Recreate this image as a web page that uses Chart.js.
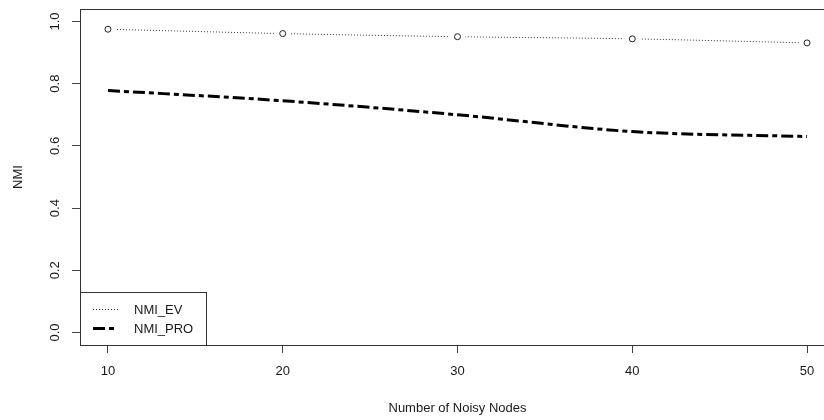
<!DOCTYPE html>
<html>
<head>
<meta charset="utf-8">
<script src="https://cdn.jsdelivr.net/npm/chart.js@4.4.1/dist/chart.umd.min.js"></script>
<style>
  html, body { margin: 0; padding: 0; background: #fff; overflow: hidden; }
  #wrap { width: 850px; height: 420px; position: relative; }
  #c { display: block; }
</style>
</head>
<body>
<div id="wrap"><canvas id="c" width="850" height="420"></canvas></div>
<script>
// ---- data ----
const noisyNodes = [10, 20, 30, 40, 50];
const nmiEV  = [0.975, 0.961, 0.951, 0.944, 0.931];
const nmiPRO = [0.778, 0.745, 0.700, 0.646, 0.630];
const seriesNames = ['NMI_EV', 'NMI_PRO'];
const xTickValues = [10, 20, 30, 40, 50];
const yTickValues = [0.0, 0.2, 0.4, 0.6, 0.8, 1.0];
const xTitle = 'Number of Noisy Nodes';
const yTitle = 'NMI';

const pts = arr => noisyNodes.map((x, i) => ({ x: x, y: arr[i] }));
const FONT = { family: '"Liberation Sans", Arial, sans-serif', size: 13 };
const INK = '#1a1a1a';
const EV_DASH = [1, 2];
const PRO_DASH = [12, 4, 5, 4];

const noPad = s => { s.paddingTop = 0; s.paddingBottom = 0; s.paddingLeft = 0; s.paddingRight = 0; };

const boxPlugin = {
  id: 'rbox',
  afterDraw(chart) {
    const { ctx, chartArea: a } = chart;
    const L = Math.round(a.left) + 0.5, T = Math.round(a.top) + 0.5,
          B = Math.round(a.bottom) + 0.5, R = Math.round(a.right) + 0.5;
    ctx.save();
    ctx.strokeStyle = '#333';
    ctx.lineWidth = 1;
    ctx.setLineDash([]);
    ctx.strokeRect(L, T, R - L, B - T);
    // legend (bottom-left, inside plot region)
    const lx = a.left, ly = a.bottom - 53, lw = 126, lh = 53;
    ctx.fillStyle = '#fff';
    ctx.fillRect(lx + 0.5, ly + 0.5, lw, lh);
    ctx.strokeStyle = '#333';
    ctx.strokeRect(Math.round(lx) + 0.5, Math.round(ly) + 0.5, lw, lh);
    const rows = [
      { y: ly + 17, ds: chart.data.datasets[1], name: seriesNames[0] },
      { y: ly + 36, ds: chart.data.datasets[0], name: seriesNames[1] }
    ];
    rows.forEach(r => {
      ctx.beginPath();
      ctx.setLineDash(r.ds.borderDash || []);
      ctx.lineWidth = r.ds.borderWidth;
      ctx.strokeStyle = r.ds.borderColor;
      ctx.moveTo(lx + 13, r.y + 0.5);
      ctx.lineTo(lx + 38, r.y + 0.5);
      ctx.stroke();
      ctx.setLineDash([]);
      ctx.fillStyle = INK;
      ctx.font = FONT.size + 'px ' + FONT.family;
      ctx.textAlign = 'left';
      ctx.textBaseline = 'middle';
      ctx.fillText(r.name, lx + 54, r.y + 1);
    });
    ctx.restore();
  }
};

new Chart(document.getElementById('c'), {
  type: 'line',
  data: {
    datasets: [
      { label: seriesNames[1], data: pts(nmiPRO), borderColor: '#000', borderWidth: 3,
        borderDash: PRO_DASH, pointRadius: 0, cubicInterpolationMode: 'monotone', order: 4 },
      { label: seriesNames[0], data: pts(nmiEV), borderColor: '#333', borderWidth: 1,
        borderDash: EV_DASH, pointRadius: 0, cubicInterpolationMode: 'monotone', order: 3 },
      { label: 'gap', data: pts(nmiEV), showLine: false, pointRadius: 8,
        pointBackgroundColor: '#fff', pointBorderWidth: 0, pointBorderColor: '#fff', order: 2 },
      { label: 'pts', data: pts(nmiEV), showLine: false, pointRadius: 3,
        pointBackgroundColor: '#fff', pointBorderColor: '#222', pointBorderWidth: 1, order: 1 }
    ]
  },
  options: {
    responsive: false,
    animation: false,
    events: [],
    layout: { padding: { top: 9, right: 15, left: 0, bottom: 0 } },
    plugins: { legend: { display: false }, tooltip: { enabled: false } },
    scales: {
      x: {
        type: 'linear', min: 8.4, max: 51.6,
        afterBuildTicks: s => { s.ticks = xTickValues.map(v => ({ value: v })); },
        afterFit: s => { s.height = 75; noPad(s); },
        grid: { display: true, drawOnChartArea: false, drawTicks: true, tickLength: 8, color: '#444' },
        border: { display: false },
        ticks: { font: FONT, color: INK, padding: 11, maxRotation: 0, autoSkip: false,
                 callback: v => String(v) },
        title: { display: true, text: xTitle, font: FONT, color: INK, padding: { top: 0, bottom: 4 } }
      },
      y: {
        type: 'linear', min: -0.04, max: 1.04,
        afterBuildTicks: s => { s.ticks = yTickValues.map(v => ({ value: v })); },
        afterFit: s => { s.width = 80; noPad(s); },
        grid: { display: true, drawOnChartArea: false, drawTicks: true, tickLength: 8, color: '#444' },
        border: { display: false },
        ticks: { font: FONT, color: INK, padding: 8, minRotation: 90, maxRotation: 90,
                 crossAlign: 'center', autoSkip: false, callback: v => Number(v).toFixed(1) },
        title: { display: true, text: yTitle, font: FONT, color: INK, padding: { top: 11, bottom: 0 } }
      }
    }
  },
  plugins: [boxPlugin]
});
</script>
</body>
</html>
